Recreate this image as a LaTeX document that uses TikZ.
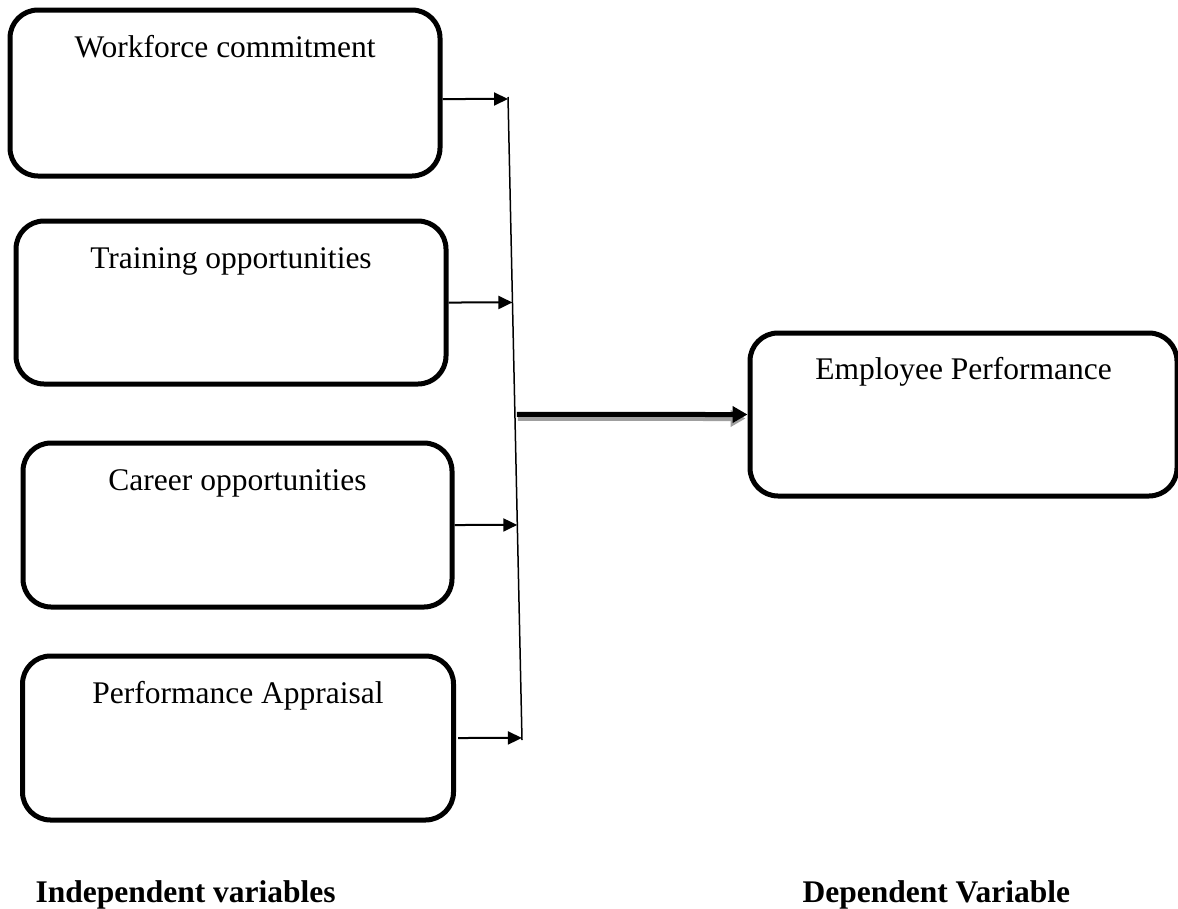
\documentclass[tikz,border=0pt]{standalone}
\usepackage{fontspec}
\setmainfont{Liberation Serif}
\usetikzlibrary{arrows.meta,calc}

\begin{document}
\begin{tikzpicture}[x=1pt,y=-1pt,
    varbox/.style={draw=black,line width=5pt,rounded corners=28pt,inner sep=0pt},
    vartext/.style={anchor=base,font=\fontsize{31.5}{38}\selectfont},
    headtext/.style={anchor=base west,font=\fontsize{31.5}{38}\selectfont\bfseries},
    link/.style={line width=2pt,-{Triangle[length=14pt,width=13pt]}}]
    \useasboundingbox (0,0) rectangle (1178,908);
    \node[varbox,minimum width=430pt,minimum height=166pt] (wc) at (225,93) {};
    \node[varbox,minimum width=430pt,minimum height=163pt] (to) at (231,302.5) {};
    \node[varbox,minimum width=429pt,minimum height=164pt] (co) at (237.5,525) {};
    \node[varbox,minimum width=431pt,minimum height=164pt] (pa) at (238,738) {};
    \node[varbox,minimum width=427pt,minimum height=163pt] (ep) at (963.5,414.5) {};
    \node[vartext] (wcText) at ([yshift=-50pt]wc.north) {Workforce commitment};
    \node[vartext] (toText) at ([yshift=-50pt]to.north) {Training opportunities};
    \node[vartext] (coText) at ([yshift=-50pt]co.north) {Career opportunities};
    \node[vartext] (paText) at ([yshift=-50pt]pa.north) {Performance Appraisal};
    \node[vartext] (epText) at ([yshift=-49pt]ep.north) {Employee Performance};
    \node[headtext] (indepLabel) at (32,902) {Independent variables};
    \node[headtext] (depLabel) at (799,902) {Dependent Variable};
    % joining line
    \coordinate (top) at (508,97);
    \coordinate (bot) at (522,740);
    \draw[line width=1.5pt] (top) -- (bot);
    \coordinate (wcOut) at ([yshift=-6pt]wc.east);
    \coordinate (paOut) at ([xshift=2pt]pa.east);
    \foreach \src in {wcOut,to.east,co.east,paOut}
      \draw[link] (\src) -- (intersection cs: first line={(top)--(bot)},
                                             second line={(\src)--([xshift=50pt]\src)});
    \coordinate (join) at (intersection cs: first line={(top)--(bot)},
                                             second line={(ep.west)--([xshift=-50pt]ep.west)});
    \draw[line width=5pt,gray!75,-{Triangle[length=15pt,width=16pt]}] ([shift={(3,4)}]join) -- ([shift={(-2,4)}]ep.west);
    \draw[line width=5pt,-{Triangle[length=15pt,width=16pt]}] ([xshift=2pt]join) -- (ep.west);
\end{tikzpicture}
\end{document}
